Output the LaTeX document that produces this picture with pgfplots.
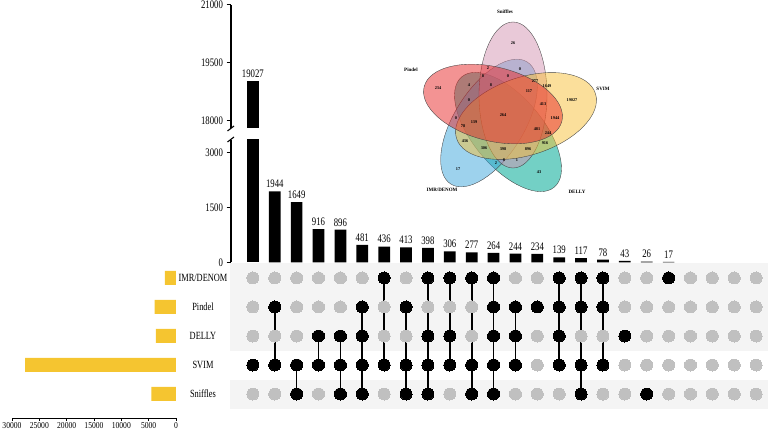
\documentclass[border=0pt]{standalone}
\usepackage{graphicx}
\usepackage{fontspec}
\setmainfont{Liberation Serif}
\usepackage{pgfplots}
\pgfplotsset{compat=1.18}
\definecolor{barY}{RGB}{245,197,48}
\definecolor{dotG}{RGB}{192,192,192}
\definecolor{bandG}{RGB}{244,244,244}
\definecolor{vPin}{RGB}{232,40,40}
\definecolor{vSni}{RGB}{212,148,178}
\definecolor{vSvi}{RGB}{247,192,55}
\definecolor{vDel}{RGB}{0,170,150}
\definecolor{vImr}{RGB}{60,165,220}
\newcommand\nar[1]{\scalebox{0.76}[1]{#1}}
\newcommand\barfont{\fontsize{11.5}{12}\selectfont}
\newcommand\rowfont{\fontsize{11}{12}\selectfont}
\newcommand\tkfont{\fontsize{9}{9.5}\selectfont}
% #1 colour, #2 #3 centre (px), #4 angle, #5 #6 radii, #7 opacity
\newcommand\vell[7]{\begin{scope}[shift={(axis cs:#2,#3)}]\fill[#1, fill opacity=#7, draw=black!75, line width=0.35pt, rotate=#4] (0pt,0pt) ellipse [x radius=#5pt, y radius=#6pt];\end{scope}}
\pgfplotsset{/pgf/number format/assume math mode=true, /pgf/number format/1000 sep={}}
\begin{document}
\begin{tikzpicture}
\useasboundingbox (0,0) rectangle (778pt,431pt);
% ---------------- Venn inset ----------------
\begin{axis}[at={(400pt,231pt)}, anchor=south west, scale only axis, width=200pt, height=200pt,
  xmin=400, xmax=600, ymin=0, ymax=200, y dir=reverse, hide axis, clip=false]
\vell{vDel}{508}{132}{-50}{72}{35}{0.55}
\vell{vImr}{489}{123}{58}{72}{35}{0.5}
\vell{vSni}{513}{95}{90}{73}{34}{0.5}
\vell{vSvi}{526}{116}{18}{73}{39}{0.5}
\vell{vPin}{493}{104}{-14}{71}{37}{0.5}
\addplot[only marks, mark=none, point meta=explicit symbolic, nodes near coords,
  every node near coord/.append style={anchor=center, inner sep=0pt, font=\fontsize{4.3}{5}\selectfont\bfseries}]
  table[meta=lab] {
x y lab
513 43 26
488 68 2
520 69 0
483 76 8
508 76 0
469 85 4
491 85 8
535 81 277
547 86 1649
529 91 117
438 88 234
572 100 19027
469 100 0
543 104 413
456 118 0
503 115 264
555 118 1944
463 126 78
474 122 139
537 129 481
548 133 244
465 141 436
545 143 916
484 148 306
503 149 398
528 149 896
496 163 2
504 160 8
517 160 1
458 169 17
539 172 43
};
\addplot[only marks, mark=none, point meta=explicit symbolic, nodes near coords,
  every node near coord/.append style={anchor=center, inner sep=0pt, font=\fontsize{5}{6}\selectfont\bfseries}]
  table[meta=lab] {
x y lab
505 12 Sniffles
411 70 Pindel
603 89 SVIM
442 190 IMR/DENOM
577 192 DELLY
};
\end{axis}
% ---------------- upper bar axis (break) ----------------
\begin{axis}[name=upper, at={(231pt,303pt)}, anchor=south west, scale only axis,
  width=547pt, height=123.3pt, xmin=0, xmax=25, ymin=17800, ymax=21000,
  axis x line=none, axis y line*=left, ytick={18000,19500,21000}, scaled y ticks=false,
  tick align=outside, major tick length=4.5pt,
  y axis line style={line width=1.2pt}, major tick style={line width=1.1pt, black},
  yticklabel={\barfont\nar{\pgfmathprintnumber{\tick}}}]
\addplot[ybar, bar shift=0pt, bar width=11.7pt, fill=black, draw=none,
  nodes near coords={\barfont\nar{\pgfmathprintnumber{\pgfplotspointmeta}}}]
  coordinates {(1,19027)};
\end{axis}
% ---------------- lower bar axis ----------------
\begin{axis}[name=lower, at={(231pt,168.5pt)}, anchor=south west, scale only axis,
  width=547pt, height=122.5pt, xmin=0, xmax=25, ymin=0, ymax=3350,
  axis x line=none, axis y line*=left, ytick={0,1500,3000}, scaled y ticks=false,
  tick align=outside, major tick length=4.5pt,
  y axis line style={line width=1.2pt}, major tick style={line width=1.1pt, black},
  yticklabel={\barfont\nar{\pgfmathprintnumber{\tick}}}]
\addplot[ybar, bar shift=0pt, bar width=11.7pt, fill=black, draw=none]
  coordinates {(1,19027)};
\addplot[ybar, bar shift=0pt, bar width=11.7pt, fill=black, draw=none,
  nodes near coords={\barfont\nar{\pgfmathprintnumber{\pgfplotspointmeta}}}]
  coordinates {(2,1944)(3,1649)(4,916)(5,896)(6,481)(7,436)(8,413)(9,398)(10,306)
  (11,277)(12,264)(13,244)(14,234)(15,139)(16,117)(17,78)(18,43)(19,26)(20,17)};
\end{axis}
\draw[line width=1.1pt] ([xshift=-3.5pt,yshift=-3pt]upper.south west) -- ([xshift=3pt,yshift=2pt]upper.south west);
\draw[line width=1.1pt] ([xshift=-3.5pt,yshift=-2pt]lower.north west) -- ([xshift=3pt,yshift=3pt]lower.north west);
% ---------------- matrix ----------------
\begin{axis}[at={(231pt,22pt)}, anchor=south west, scale only axis,
  width=547pt, height=146pt, xmin=0, xmax=25, ymin=0.483, ymax=5.517, clip=false,
  axis line style={draw=none}, xtick=\empty, ytick={1,2,3,4,5},
  yticklabels={\nar{Sniffles},\nar{SVIM},\nar{DELLY},\nar{Pindel},\nar{IMR/DENOM}},
  major tick length=0pt, yticklabel style={anchor=center, xshift=-28pt, font=\rowfont}]
\addplot[fill=bandG, draw=none] coordinates {(-0.04,2.5)(24.55,2.5)(24.55,5.517)(-0.04,5.517)} -- cycle;
\addplot[fill=bandG, draw=none] coordinates {(-0.04,0.483)(24.55,0.483)(24.55,1.5)(-0.04,1.5)} -- cycle;
\addplot[only marks, mark=*, mark size=6pt, color=dotG, mark options={fill=dotG, draw=dotG, line width=0pt}] coordinates {
(1,5)(2,5)(3,5)(4,5)(5,5)(6,5)(7,5)(8,5)(9,5)(10,5)(11,5)(12,5)(13,5)(14,5)(15,5)(16,5)(17,5)(18,5)(19,5)(20,5)(21,5)(22,5)(23,5)(24,5)
(1,4)(2,4)(3,4)(4,4)(5,4)(6,4)(7,4)(8,4)(9,4)(10,4)(11,4)(12,4)(13,4)(14,4)(15,4)(16,4)(17,4)(18,4)(19,4)(20,4)(21,4)(22,4)(23,4)(24,4)
(1,3)(2,3)(3,3)(4,3)(5,3)(6,3)(7,3)(8,3)(9,3)(10,3)(11,3)(12,3)(13,3)(14,3)(15,3)(16,3)(17,3)(18,3)(19,3)(20,3)(21,3)(22,3)(23,3)(24,3)
(1,2)(2,2)(3,2)(4,2)(5,2)(6,2)(7,2)(8,2)(9,2)(10,2)(11,2)(12,2)(13,2)(14,2)(15,2)(16,2)(17,2)(18,2)(19,2)(20,2)(21,2)(22,2)(23,2)(24,2)
(1,1)(2,1)(3,1)(4,1)(5,1)(6,1)(7,1)(8,1)(9,1)(10,1)(11,1)(12,1)(13,1)(14,1)(15,1)(16,1)(17,1)(18,1)(19,1)(20,1)(21,1)(22,1)(23,1)(24,1)
};
\addplot[black, line width=1.7pt, unbounded coords=jump] coordinates {
(2,2)(2,4)(nan,nan)(3,1)(3,2)(nan,nan)(4,2)(4,3)(nan,nan)(5,1)(5,3)(nan,nan)
(6,1)(6,4)(nan,nan)(7,2)(7,5)(nan,nan)(8,1)(8,4)(nan,nan)(9,1)(9,5)(nan,nan)
(10,2)(10,5)(nan,nan)(11,1)(11,5)(nan,nan)(12,1)(12,5)(nan,nan)(13,2)(13,4)(nan,nan)
(15,2)(15,5)(nan,nan)(16,1)(16,5)(nan,nan)(17,2)(17,5)
};
\addplot[only marks, mark=*, mark size=6pt, color=black, mark options={fill=black, draw=black, line width=0pt}] coordinates {
(1,2)(2,4)(2,2)(3,2)(3,1)(4,3)(4,2)(5,3)(5,2)(5,1)(6,4)(6,3)(6,2)(6,1)
(7,5)(7,2)(8,4)(8,2)(8,1)(9,5)(9,3)(9,2)(9,1)(10,5)(10,3)(10,2)(11,5)(11,2)(11,1)
(12,5)(12,4)(12,3)(12,2)(12,1)(13,4)(13,3)(13,2)(14,4)(15,5)(15,4)(15,3)(15,2)
(16,5)(16,4)(16,2)(16,1)(17,5)(17,4)(17,2)(18,3)(19,1)(20,5)
};
\end{axis}
% ---------------- set size bars ----------------
\begin{axis}[at={(12pt,13pt)}, anchor=south west, scale only axis,
  width=164pt, height=155pt, xmin=0, xmax=30000, x dir=reverse,
  ymin=0.172, ymax=5.517, axis x line*=bottom, axis y line=none,
  xtick={0,5000,10000,15000,20000,25000,30000}, scaled x ticks=false,
  tick align=outside, major tick length=3pt, major tick style={line width=0.8pt, black},
  x axis line style={line width=0.8pt},
  xticklabel style={inner sep=1pt},
  xticklabel={\tkfont\scalebox{0.85}[1]{\pgfmathprintnumber{\tick}}}]
\addplot[xbar, bar shift=0pt, bar width=14pt, fill=barY, draw=none]
  coordinates {(2032,5)(3914,4)(3687,3)(27585,2)(4521,1)};
\end{axis}
\end{tikzpicture}
\end{document}
